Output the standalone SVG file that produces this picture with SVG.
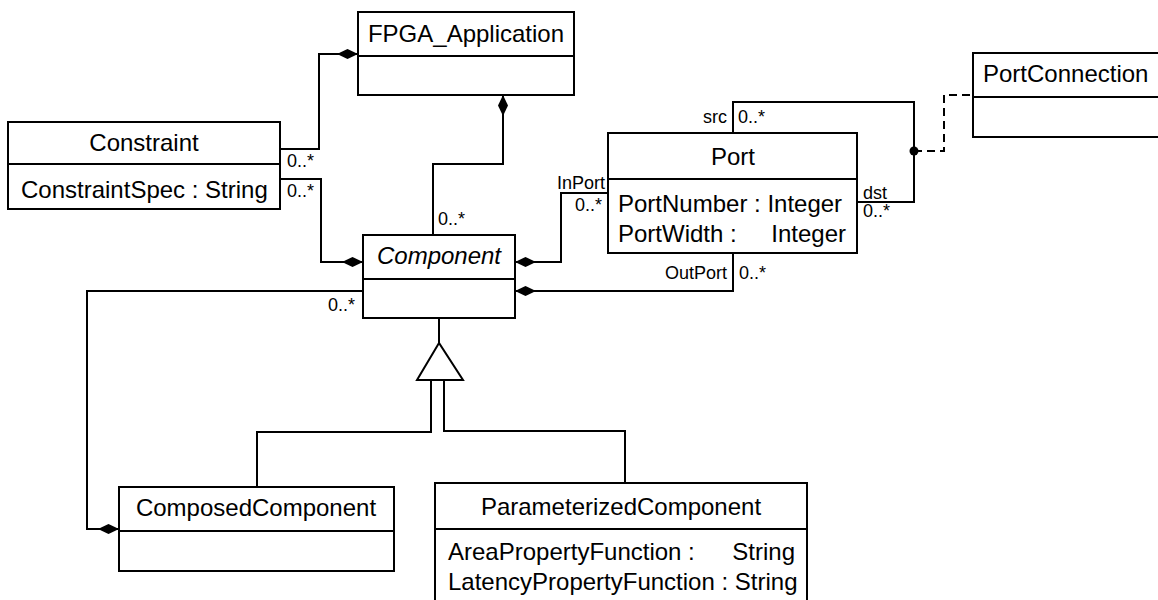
<svg xmlns="http://www.w3.org/2000/svg" width="1158" height="600" viewBox="0 0 1158 600">
  <style>
    .box { fill: #fff; stroke: #000; stroke-width: 2; }
    .div { stroke: #000; stroke-width: 2; }
    .name { font-family: "Liberation Sans", Arial, sans-serif; font-size: 24px; fill: #000; text-anchor: middle; }
    .attr { font-family: "Liberation Sans", Arial, sans-serif; font-size: 24px; fill: #000; }
    .lbl { font-family: "Liberation Sans", Arial, sans-serif; font-size: 18px; fill: #000; }
    .end { text-anchor: end; }
    .link { fill: none; stroke: #000; stroke-width: 2; }
    .comp { marker-start: url(#diamond); }
    .dash { fill: none; stroke: #000; stroke-width: 2; stroke-dasharray: 8 5; }
  </style>
  <defs>
    <!-- filled diamond for composition ends -->
    <marker id="diamond" markerUnits="userSpaceOnUse" viewBox="0 -6 22 12" markerWidth="22" markerHeight="12" refX="0" refY="0" orient="auto" overflow="visible">
      <path d="M0,0 L10.5,-5 L21,0 L10.5,5 Z" fill="#000"/>
    </marker>
  </defs>

  <!-- connectors -->
  <g id="connectors">
    <path class="link comp" d="M358,54 L319,54 L319,149 L280,149"/>
    <path class="link comp" d="M363,262 L321,262 L321,179 L280,179"/>
    <path class="link comp" d="M503,95 L503,164 L433,164 L433,235"/>
    <path class="link comp" d="M515,262 L561,262 L561,193 L608,193"/>
    <path class="link comp" d="M515,291 L733,291 L733,253"/>
    <path class="link comp" d="M119,529 L87,529 L87,291 L363,291"/>
    <path class="link" d="M733,133 L733,102 L914,102 L914,202 L857,202"/>
    <circle cx="914" cy="151" r="4.5" fill="#000"/>
    <path class="dash" d="M914,151 L944,151 L944,95 L973,95"/>
    <!-- generalization -->
    <path class="link" d="M439,318 L439,343"/>
    <polygon points="439,343 417,380 463,380" fill="#fff" stroke="#000" stroke-width="2"/>
    <path class="link" d="M431,380 L431,432 L257,432 L257,487"/>
    <path class="link" d="M444,380 L444,431 L625,431 L625,483"/>

    <text class="lbl" x="287" y="167">0..*</text>
    <text class="lbl" x="287" y="197">0..*</text>
    <text class="lbl" x="438" y="225">0..*</text>
    <text class="lbl end" x="605" y="189">InPort</text>
    <text class="lbl end" x="602" y="211">0..*</text>
    <text class="lbl end" x="727" y="123">src</text>
    <text class="lbl" x="738" y="123">0..*</text>
    <text class="lbl" x="863" y="199">dst</text>
    <text class="lbl" x="863" y="217">0..*</text>
    <text class="lbl end" x="727" y="279">OutPort</text>
    <text class="lbl" x="739" y="279">0..*</text>
    <text class="lbl end" x="355" y="311">0..*</text>
  </g>

  <g id="FPGA_Application">
    <rect class="box" x="358" y="12" width="216" height="83"/>
    <line class="div" x1="358" y1="56" x2="574" y2="56"/>
    <text class="name" x="466" y="42">FPGA_Application</text>
  </g>

  <g id="Constraint">
    <rect class="box" x="8" y="122" width="272" height="87"/>
    <line class="div" x1="8" y1="164" x2="280" y2="164"/>
    <text class="name" x="144" y="151">Constraint</text>
    <text class="attr" x="21" y="198">ConstraintSpec : String</text>
  </g>

  <g id="Component">
    <rect class="box" x="363" y="235" width="152" height="83"/>
    <line class="div" x1="363" y1="279" x2="515" y2="279"/>
    <text class="name" x="439" y="264" font-style="italic">Component</text>
  </g>

  <g id="Port">
    <rect class="box" x="608" y="133" width="249" height="120"/>
    <line class="div" x1="608" y1="179" x2="857" y2="179"/>
    <text class="name" x="733" y="165">Port</text>
    <text class="attr" x="618" y="212">PortNumber : Integer</text>
    <text class="attr" x="618" y="242">PortWidth :</text>
    <text class="attr end" x="846" y="242">Integer</text>
  </g>

  <g id="PortConnection">
    <rect class="box" x="973" y="53" width="190" height="84"/>
    <line class="div" x1="973" y1="97" x2="1163" y2="97"/>
    <text class="attr" x="983" y="82">PortConnection</text>
  </g>

  <g id="ComposedComponent">
    <rect class="box" x="119" y="487" width="275" height="84"/>
    <line class="div" x1="119" y1="531" x2="394" y2="531"/>
    <text class="name" x="256" y="516">ComposedComponent</text>
  </g>

  <g id="ParameterizedComponent">
    <rect class="box" x="435" y="483" width="372" height="125"/>
    <line class="div" x1="435" y1="529" x2="807" y2="529"/>
    <text class="name" x="621" y="515">ParameterizedComponent</text>
    <text class="attr" x="448" y="560">AreaPropertyFunction :</text>
    <text class="attr end" x="795" y="560">String</text>
    <text class="attr" x="448" y="590">LatencyPropertyFunction : String</text>
  </g>
</svg>
